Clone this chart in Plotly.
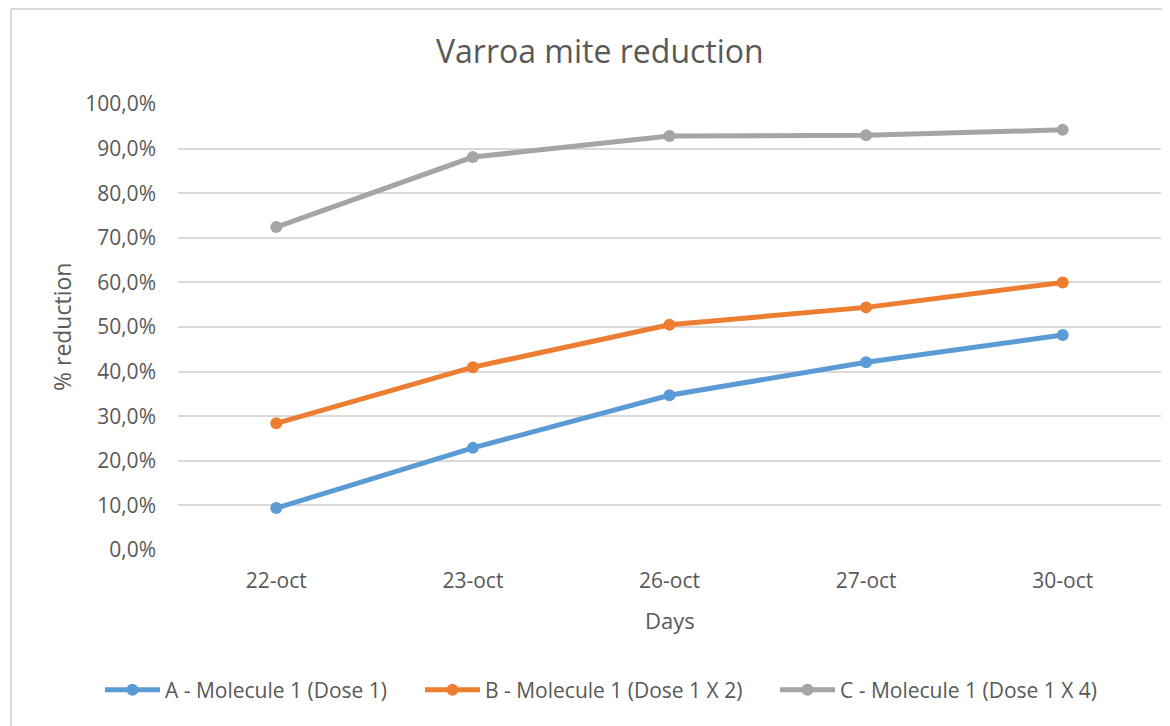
import plotly.graph_objects as go

days = ["22-oct", "23-oct", "26-oct", "27-oct", "30-oct"]
series_names = ["A - Molecule 1 (Dose 1)", "B - Molecule 1 (Dose 1 X 2)", "C - Molecule 1 (Dose 1 X 4)"]
a_values = [0.094, 0.229, 0.347, 0.421, 0.482]
b_values = [0.284, 0.410, 0.505, 0.544, 0.600]
c_values = [0.724, 0.881, 0.928, 0.930, 0.942]
colors = ["#5B9BD5", "#ED7D31", "#A5A5A5"]
y_ticks = [0, 0.1, 0.2, 0.3, 0.4, 0.5, 0.6, 0.7, 0.8, 0.9, 1.0]
y_tick_labels = ["0,0%", "10,0%", "20,0%", "30,0%", "40,0%", "50,0%", "60,0%", "70,0%", "80,0%", "90,0%", "100,0%"]

# page body adds an 8px offset; work in reference pixel coords and shift
OFF = 8
W, H = 1170, 726
ML, MR, MT, MB = 178 - OFF, 17, 104 - OFF, 184
PW = W - ML - MR
PH = H - MT - MB
FONT = "'Open Sans', Lato, sans-serif"
TXT = "#595959"

def px(x):
    return (x - OFF - ML) / PW

def py(y):
    return (H - MB - (y - OFF)) / PH

legend_ids = ["legend", "legend2", "legend3"]
legend_starts = [110, 430, 785]

fig = go.Figure()
for name, vals, col, lid in zip(series_names, [a_values, b_values, c_values], colors, legend_ids):
    fig.add_trace(go.Scatter(
        x=days, y=vals, name=name, mode="lines+markers",
        line=dict(color=col, width=5),
        marker=dict(color=col, size=12),
        hoverinfo="skip", legend=lid,
    ))

legend_common = dict(orientation="h", xref="container", yref="container",
                     xanchor="left", yanchor="middle", y=1 - (690 - OFF) / H,
                     font=dict(size=21, color=TXT), itemwidth=55,
                     bgcolor="rgba(0,0,0,0)", borderwidth=0)
legends = {}
for lid, xs in zip(legend_ids, legend_starts):
    legends[lid] = dict(legend_common, x=(xs - OFF - 10) / W)

fig.update_layout(
    width=W, height=H,
    margin=dict(l=ML, r=MR, t=MT, b=MB, pad=0, autoexpand=False),
    paper_bgcolor="white", plot_bgcolor="white",
    font=dict(family=FONT, color=TXT, size=21),
    showlegend=True,
    xaxis=dict(type="category", range=[-0.5, 4.5], showgrid=False, zeroline=False,
               showline=False, automargin=False,
               ticks="", ticklabelstandoff=16, tickfont=dict(size=21, color=TXT)),
    yaxis=dict(range=[0, 1], tickvals=y_ticks, ticktext=y_tick_labels, automargin=False,
               showgrid=True, gridcolor="#D9D9D9", gridwidth=1.5,
               zeroline=False, showline=False, ticks="", ticklabelstandoff=21,
               tickfont=dict(size=21, color=TXT)),
    annotations=[
        dict(text="Varroa mite reduction", xref="paper", yref="paper",
             x=px(600), y=py(51), xanchor="center", yanchor="middle",
             showarrow=False, font=dict(size=32, color=TXT, family=FONT)),
        dict(text="% reduction", xref="paper", yref="paper",
             x=px(62), y=py(327), xanchor="center", yanchor="middle",
             textangle=-90, showarrow=False, font=dict(size=23, color=TXT)),
        dict(text="Days", xref="paper", yref="paper",
             x=px(670), y=py(620), xanchor="center", yanchor="middle",
             showarrow=False, font=dict(size=22, color=TXT)),
    ],
    shapes=[
        dict(type="line", xref="paper", yref="paper",
             x0=px(11), x1=px(1185), y0=py(9), y1=py(9),
             line=dict(color="#D9D9D9", width=2)),
        dict(type="line", xref="paper", yref="paper",
             x0=px(11), x1=px(11), y0=py(9), y1=py(740),
             line=dict(color="#D9D9D9", width=2)),
    ],
    **legends,
)

fig.write_html("out.html")
